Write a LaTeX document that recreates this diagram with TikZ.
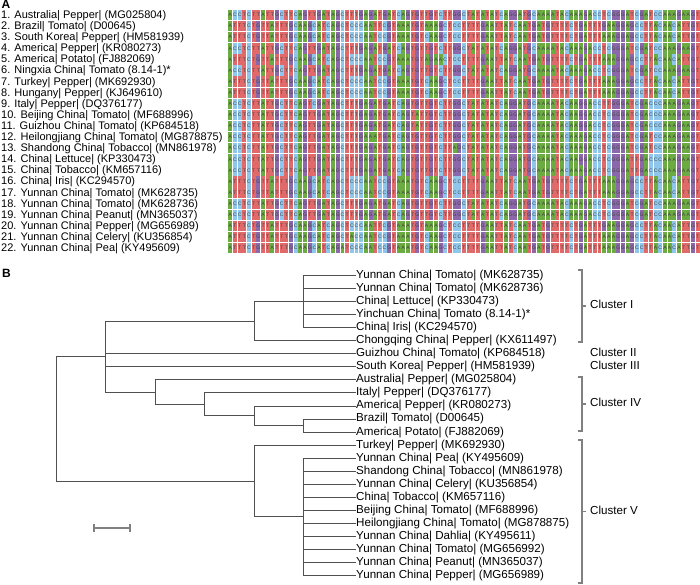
\documentclass[tikz,border=0pt]{standalone}
\usepackage{fontspec}
\setmainfont{Liberation Sans}
\definecolor{agreen}{RGB}{108,170,66}
\definecolor{ablue}{RGB}{142,198,236}
\definecolor{apurple}{RGB}{140,104,170}
\definecolor{ared}{RGB}{224,106,106}
\definecolor{treegray}{RGB}{80,80,80}
\definecolor{brgray}{RGB}{128,128,128}
\newcounter{alncol}
\newcommand\alnA{agreen}\newcommand\alnC{ablue}\newcommand\alnG{apurple}\newcommand\alnT{ared}
\newcommand\alncell[1]{%
  \pgfmathsetmacro\alnx{228+\the\value{alncol}*4.673}%
  \fill[\csname aln#1\endcsname] (\alnx+0.35,\alntop+0.35) rectangle (\alnx+4.32,\alntop+10.75);%
  \node[celltxt] at (\alnx+2.34,\alntop+5.55) {#1};%
}
\def\alnloop#1{\ifx#1\relax\else\alncell{#1}\stepcounter{alncol}\expandafter\alnloop\fi}
\newcommand\alnrow[2]{%
  \pgfmathsetmacro\alntop{9.5+(#1-1)*11.1}%
  \setcounter{alncol}{0}%
  \expandafter\alnloop#2\relax}
% X type
\def\sXa{ACCTCTTATTGCTTCAGTTGATAGCTTTGAGATGATCAGTGTTGTCTTGGCTATATATCAGGATGCAAAATACAAAGACCTCGGGATCGATCCAAAGAAGT}
\def\sXi{ACCTCTTATTGCTTCAGTCGATAGCTTTGAGATGATCAGTGTTGTCTTGGCTATATATCAGGATGCAAAATACAAGGACCTTGGGATCGACCCAAAGAAGT}
\def\sXj{ACCTCTTATTGCTTCAGTTGATAGCTTTGAGATGATCAGTATTGTCTTGGCTATATATCAGGATGCAAAATACAAGGACCTCGGGATCGACCCAAAGAAGT}
\def\sXl{ACCTCTTATTGCTTCAGTTGATAGCTTTGAAATGATCAGTGTTGTCTTGGCTATATATCAGGATGCAAAATACAAAGACCTCGGGATCGATCCAAAGAAGT}
\def\sXm{ACCTCTTATTGCTTCAGTTGATAGCTTTGAGATGATCAGTGTTGTCTTAGCTATATATCAGGATGCAAAATACAAAGACCTCGGGATCGATCCAAAGAAGT}
\def\sXn{ACCTCTTATTGCTTCAGTTGATAGCTTTGAGATGATCAGTGTTGTCTTGGCTATATATCAGGATGCAAAATACAAGGACCTCGGGATTGACCCAAAGAAGT}
\def\sXo{ACCTCTTATTGCTTCAGTTGATAGCTTTGAGATGATCAGTGTTGTCTTGGCTATATATCAGGATGCAAAATACAAAGACCTCGGGATTGACCCAAAGAAGT}
% Y type
\def\sYa{ATTTCTGTTATTTGCAAGCATCAGCTCCCAATTCGTAAATGTAAAGCTCCTTTTGAATTATCAATGATGTTTTCTGATTTGAAGGAGCCTTACAACATTGT}
\def\sYb{ATTTCTGTTATTTGCAAGCATCAGCTCCCAATCCGTAAATGTCAAGCTCCTTTTGAATTATCAATGATGTTTTCTGATTTAAAGGAGCCTTACAACATTGT}
\def\sYc{ATTTCTGTTATTTGCAAGCATCAGCTCCCAATCCGTAAATGTAGAACTCCTTTTGAATTATCAATGATGTTTTCTGATTTAAAGGAGCCTTACAACATTGT}
\def\sYd{ATTTCTGTTATTTGCAAGCATCAGCTACCAATCCGTAAATGTCAAGCTCCTTTTGAATTATCAATGATGTTTTCTGATTTAAAGGAGCCTTACAACATTGT}
\def\sYe{ATTTCTGTTATTTGCAAGCATCAGATCCCAATCCGTAAATGTCAAGCTCCTTTTGAATTATCAATGATGTTTTCTGATTTAAAGGAGCCTTACAACATTGT}
\begin{document}
\begin{tikzpicture}[x=1bp,y=-1bp,
  lbl/.style={anchor=west,inner sep=0pt,text height=8bp,text depth=2.3bp,font=\fontsize{11bp}{13bp}\selectfont},
  leaf/.style={anchor=west,inner sep=0pt,text height=8.2bp,text depth=2.4bp,font=\fontsize{11.6bp}{13bp}\selectfont},
  panel/.style={anchor=base west,inner sep=0pt,font=\fontsize{12bp}{14bp}\selectfont\bfseries},
  celltxt/.style={inner sep=0pt,font=\fontsize{5bp}{5bp}\selectfont,text=black!75},
  branch/.style={draw=treegray,line width=1bp},
  bracket/.style={draw=brgray,line width=1.3bp},
]
\fill[white] (0,0) rectangle (700,585);
\useasboundingbox (0,0) rectangle (700,585);

% ---------- Panel A ----------
\node[panel] (pA) at (1.5,8.2) {A};
\foreach \i/\t in {
 1/{1. Australia| Pepper| (MG025804)},
 2/{2. Brazil| Tomato| (D00645)},
 3/{3. South Korea| Pepper| (HM581939)},
 4/{4. America| Pepper| (KR080273)},
 5/{5. America| Potato| (FJ882069)},
 6/{6. Ningxia China| Tomato (8.14-1)*},
 7/{7. Turkey| Pepper| (MK692930)},
 8/{8. Hungany| Pepper| (KJ649610)},
 9/{9. Italy| Pepper| (DQ376177)},
 10/{10. Beijing China| Tomato| (MF688996)},
 11/{11. Guizhou China| Tomato| (KP684518)},
 12/{12. Heilongjiang China| Tomato| (MG878875)},
 13/{13. Shandong China| Tobacco| (MN861978)},
 14/{14. China| Lettuce| (KP330473)},
 15/{15. China| Tobacco| (KM657116)},
 16/{16. China| Iris| (KC294570)},
 17/{17. Yunnan China| Tomato| (MK628735)},
 18/{18. Yunnan China| Tomato| (MK628736)},
 19/{19. Yunnan China| Peanut| (MN365037)},
 20/{20. Yunnan China| Pepper| (MG656989)},
 21/{21. Yunnan China| Celery| (KU356854)},
 22/{22. Yunnan China| Pea| (KY495609)}}
 \node[lbl] (a\i) at (1,{15.6+(\i-1)*11.1}) {\t};

\fill[white] (228,9.5) rectangle (700,253.7);
\alnrow{1}{\sXa}
\alnrow{2}{\sYa}
\alnrow{3}{\sYb}
\alnrow{4}{\sXa}
\alnrow{5}{\sYc}
\alnrow{6}{\sXa}
\alnrow{7}{\sYb}
\alnrow{8}{\sYb}
\alnrow{9}{\sXi}
\alnrow{10}{\sXj}
\alnrow{11}{\sXj}
\alnrow{12}{\sXl}
\alnrow{13}{\sXm}
\alnrow{14}{\sXn}
\alnrow{15}{\sXo}
\alnrow{16}{\sYb}
\alnrow{17}{\sYb}
\alnrow{18}{\sXa}
\alnrow{19}{\sXa}
\alnrow{20}{\sYa}
\alnrow{21}{\sYd}
\alnrow{22}{\sYe}

% ---------- Panel B ----------
\node[panel] (pB) at (2,277.5) {B};

\foreach \i/\t in {
 1/{Yunnan China| Tomato| (MK628735)},
 2/{Yunnan China| Tomato| (MK628736)},
 3/{China| Lettuce| (KP330473)},
 4/{Yinchuan China| Tomato (8.14-1)*},
 5/{China| Iris| (KC294570)},
 6/{Chongqing China| Pepper| (KX611497)},
 7/{Guizhou China| Tomato| (KP684518)},
 8/{South Korea| Pepper| (HM581939)},
 9/{Australia| Pepper| (MG025804)},
 10/{Italy| Pepper| (DQ376177)},
 11/{America| Pepper| (KR080273)},
 12/{Brazil| Tomato| (D00645)},
 13/{America| Potato| (FJ882069)},
 14/{Turkey| Pepper| (MK692930)},
 15/{Yunnan China| Pea| (KY495609)},
 16/{Shandong China| Tobacco| (MN861978)},
 17/{Yunnan China| Celery| (KU356854)},
 18/{China| Tobacco| (KM657116)},
 19/{Beijing China| Tomato| (MF688996)},
 20/{Heilongjiang China| Tomato| (MG878875)},
 21/{Yunnan China| Dahlia| (KY495611)},
 22/{Yunnan China| Tomato| (MG656992)},
 23/{Yunnan China| Peanut| (MN365037)},
 24/{Yunnan China| Pepper| (MG656989)}}
 \node[leaf] (L\i) at (356,{275.5+(\i-1)*13.05}) {\t};

% internal nodes
\coordinate (E) at (303,301.6);
\coordinate (C) at (254,321.175);
\coordinate (H) at (303,425.575);
\coordinate (G) at (254,415.79);
\coordinate (F) at (204,404.37);
\coordinate (D) at (155,392.135);
\coordinate (A) at (105,356.655);
\coordinate (I) at (303,516.925);
\coordinate (B) at (254,481.04);
\coordinate (R) at (56,418.85);

\foreach \k in {1,...,5} \draw[branch] (E) |- (L\k.west);
\draw[branch] (C) |- (E);
\draw[branch] (C) |- (L6.west);
\draw[branch] (A) |- (C);
\draw[branch] (A) |- (L7.west);
\draw[branch] (A) |- (L8.west);
\draw[branch] (A) |- (D);
\draw[branch] (D) |- (L9.west);
\draw[branch] (D) |- (F);
\draw[branch] (F) |- (L10.west);
\draw[branch] (F) |- (G);
\draw[branch] (G) |- (L11.west);
\draw[branch] (G) |- (H);
\draw[branch] (H) |- (L12.west);
\draw[branch] (H) |- (L13.west);
\draw[branch] (B) |- (L14.west);
\draw[branch] (B) |- (I);
\foreach \k in {15,...,24} \draw[branch] (I) |- (L\k.west);
\draw[branch] (R) |- (A);
\draw[branch] (R) |- (B);

% cluster brackets and labels
\node[leaf] (c1) at (590,306) {Cluster I};
\node[leaf] (c2) at (590,353.8) {Cluster II};
\node[leaf] (c3) at (590,366.85) {Cluster III};
\node[leaf] (c4) at (590,404) {Cluster IV};
\node[leaf] (c5) at (590,511.5) {Cluster V};
\draw[bracket] (578,270) -- (582,270) -- (582,342) -- (578,342);
\draw[bracket] (582,306) -- ++(4,0) coordinate (t1);
\draw[bracket] (578,377) -- (582,377) -- (582,431) -- (578,431);
\draw[bracket] (582,404) -- ++(4,0) coordinate (t4);
\draw[bracket] (578,440) -- (582,440) -- (582,583) -- (578,583);
\draw[bracket] (582,511.5) -- ++(4,0) coordinate (t5);

% scale bar
\coordinate (sb1) at (94,528);
\coordinate (sb2) at (130,528);
\draw[bracket] (sb1) -- (sb2);
\draw[bracket] ([yshift=-4bp]sb1) -- ([yshift=4bp]sb1);
\draw[bracket] ([yshift=-4bp]sb2) -- ([yshift=4bp]sb2);
\end{tikzpicture}
\end{document}
